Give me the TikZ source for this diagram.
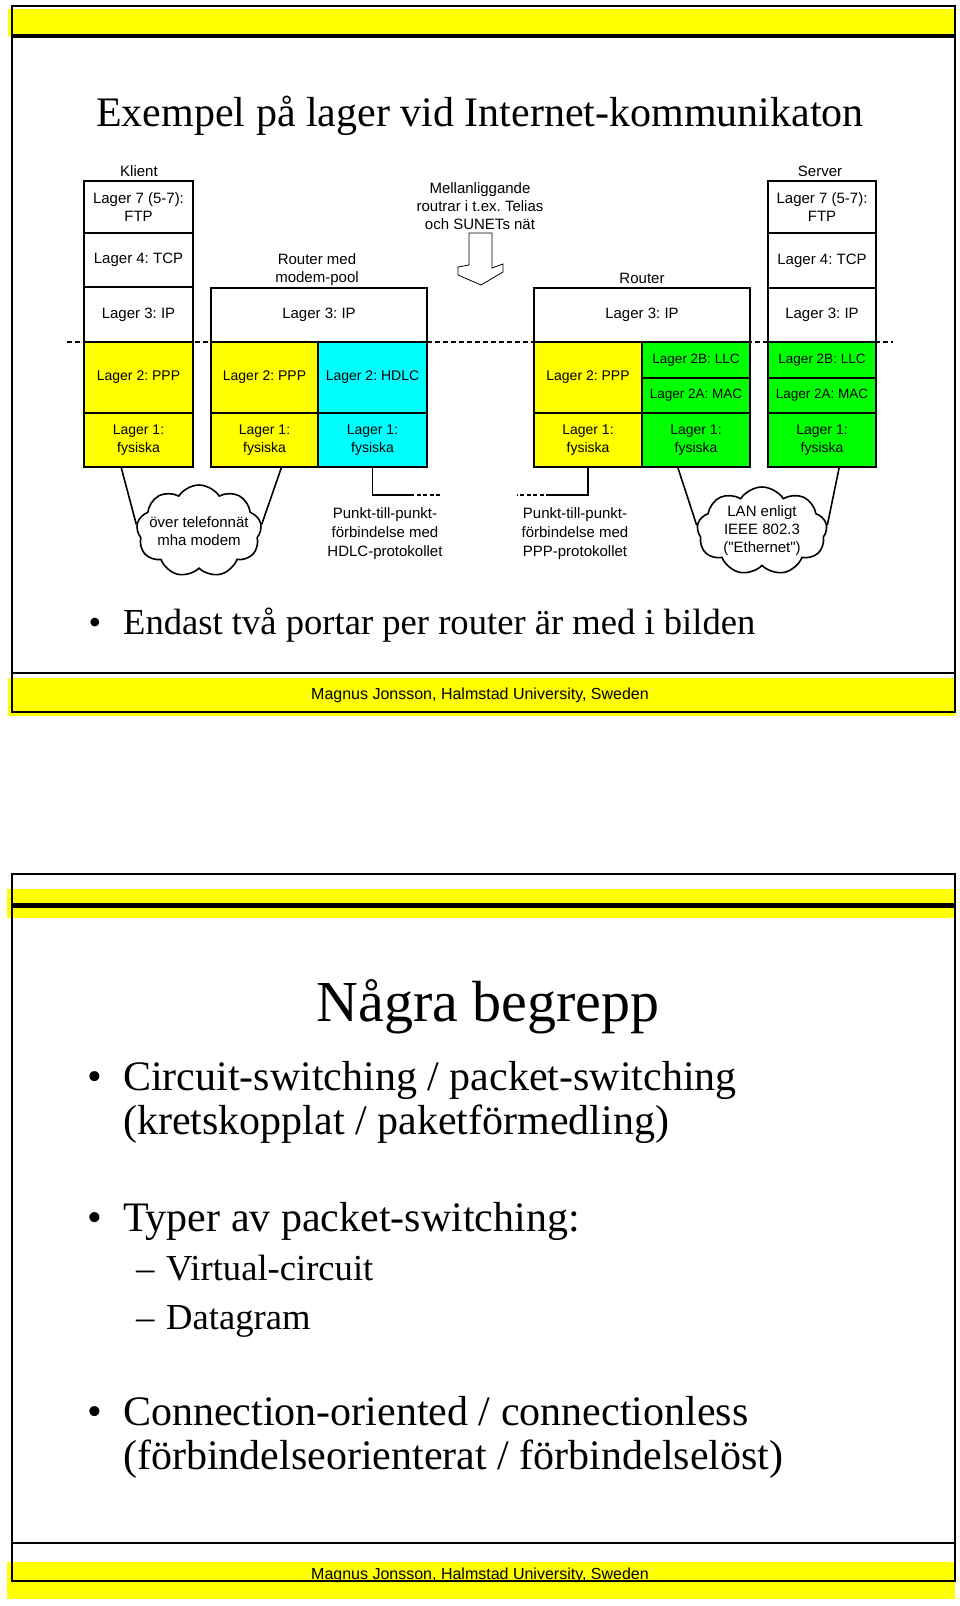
\documentclass[tikz,border=0pt]{standalone}
\usepackage{fontspec}
\setmainfont{Liberation Serif}
\newfontfamily\arialfont[Ligatures=TeXOff]{Liberation Sans}
\usepackage{tikz}
\usetikzlibrary{positioning,calc,shapes.symbols}
\definecolor{slideyellow}{RGB}{255,255,0}
\definecolor{hdlccyan}{RGB}{0,255,255}
\definecolor{langreen}{RGB}{0,255,0}
\frenchspacing

\begin{document}
\begin{tikzpicture}[
    x=1pt,y=-1pt,
    lyr/.style={
        draw=black,
        fill=white,
        line width=1.6pt,
        inner sep=0pt,
        outer sep=0pt,
        align=center,
        anchor=north west,
        font=\arialfont\fontsize{15}{18}\selectfont,
    },
    low/.style={font=\arialfont\fontsize{14}{18}\selectfont},
    sub/.style={font=\arialfont\fontsize{13.5}{18}\selectfont},
    lbl/.style={
        inner sep=0pt,
        align=center,
        font=\arialfont\fontsize{15}{18}\selectfont,
    },
    note/.style={
        inner sep=0pt,
        align=center,
        font=\arialfont\fontsize{15}{19}\selectfont,
    },
    wire/.style={line width=1.6pt},
    cloudy/.style={
        cloud,
        cloud puffs=9,
        cloud puff arc=115,
        cloud ignores aspect,
        draw=black,
        fill=white,
        line width=1.6pt,
        inner sep=0pt,
    },
    layerline/.style={line width=1.8pt, dash pattern=on 5pt off 3pt},
    slidetitle/.style={inner sep=0pt, anchor=base},
    bodytext/.style={inner sep=0pt, anchor=base west, font=\fontsize{42}{50}\selectfont},
    subtext/.style={inner sep=0pt, anchor=base west, font=\fontsize{36.6}{44}\selectfont},
    footer/.style={inner sep=0pt, font=\arialfont\fontsize{16}{19}\selectfont},
]
\useasboundingbox (0,0) rectangle (960,1606);

% slide 1 frame
\fill[slideyellow] (8,9) rectangle (955,36);
\fill[slideyellow] (8,678) rectangle (955,716);
\draw[line width=2pt] (12,6) rectangle (955,712);
\draw[line width=4pt] (12,36) -- (955,36);
\draw[line width=2.5pt] (12,673) -- (955,673);

\node[slidetitle,font=\fontsize{42}{50}\selectfont] (title1) at (480,126) {Exempel på lager vid Internet-kommunikaton};

\coordinate (dl) at (67,342);
\coordinate (dr) at (893,342);
\draw[layerline] (dl) -- (dr);

% klient
\node[lyr,minimum width=109,minimum height=52] (kl7) at (84,181) {Lager 7 (5-7):\\FTP};
\node[lyr,minimum width=109,minimum height=54,below=0pt of kl7] (kl4) {Lager 4: TCP};
\node[lyr,minimum width=109,minimum height=55,below=0pt of kl4] (kl3) {Lager 3: IP};
\node[lyr,low,minimum width=109,minimum height=71,below=0pt of kl3,fill=slideyellow] (kl2) {Lager 2: PPP};
\node[lyr,low,minimum width=109,minimum height=54,below=0pt of kl2,fill=slideyellow] (kl1) {Lager 1:\\fysiska};
\node[lbl] (klient) at (139,171) {Klient};

% router med modem-pool
\node[lyr,minimum width=216,minimum height=54] (ra3) at (211,288) {Lager 3: IP};
\node[lyr,low,minimum width=107,minimum height=71,fill=slideyellow] (ra2p) at (ra3.south west) {Lager 2: PPP};
\node[lyr,low,minimum width=109,minimum height=71,fill=hdlccyan] (ra2h) at (ra2p.north east) {Lager 2: HDLC};
\node[lyr,low,minimum width=107,minimum height=54,below=0pt of ra2p,fill=slideyellow] (ra1p) {Lager 1:\\fysiska};
\node[lyr,low,minimum width=109,minimum height=54,below=0pt of ra2h,fill=hdlccyan] (ra1h) {Lager 1:\\fysiska};
\node[lbl] (modempool) at (317,270) {Router med\\modem-pool};

% router
\node[lyr,minimum width=216,minimum height=54] (rb3) at (534,288) {Lager 3: IP};
\node[lyr,low,minimum width=108,minimum height=71,fill=slideyellow] (rb2p) at (rb3.south west) {Lager 2: PPP};
\node[lyr,sub,minimum width=108,minimum height=36,fill=langreen] (rb2b) at (rb2p.north east) {Lager 2B: LLC};
\node[lyr,sub,minimum width=108,minimum height=35,below=0pt of rb2b,fill=langreen] (rb2a) {Lager 2A: MAC};
\node[lyr,low,minimum width=108,minimum height=54,below=0pt of rb2p,fill=slideyellow] (rb1p) {Lager 1:\\fysiska};
\node[lyr,low,minimum width=108,minimum height=54,below=0pt of rb2a,fill=langreen] (rb1e) {Lager 1:\\fysiska};
\node[lbl] (router) at (642,278) {Router};

% server
\node[lyr,minimum width=108,minimum height=52] (sv7) at (768,181) {Lager 7 (5-7):\\FTP};
\node[lyr,minimum width=108,minimum height=55,below=0pt of sv7] (sv4) {Lager 4: TCP};
\node[lyr,minimum width=108,minimum height=54,below=0pt of sv4] (sv3) {Lager 3: IP};
\node[lyr,sub,minimum width=108,minimum height=36,below=0pt of sv3,fill=langreen] (sv2b) {Lager 2B: LLC};
\node[lyr,sub,minimum width=108,minimum height=35,below=0pt of sv2b,fill=langreen] (sv2a) {Lager 2A: MAC};
\node[lyr,low,minimum width=108,minimum height=54,below=0pt of sv2a,fill=langreen] (sv1) {Lager 1:\\fysiska};
\node[lbl] (server) at (820,171) {Server};

\node[lbl] (mellan) at (480,206) {Mellanliggande\\routrar i t.ex. Telias\\och SUNETs nät};
\draw[line width=0.8pt,fill=white] (469,233) -- (492,233) -- (492,268) -- (503,264) -- (503,272) -- (481,285) -- (458,275) -- (458,267) -- (469,265) -- cycle;

% clouds and links
\node[cloudy,minimum width=125,minimum height=92] (tel) at (199,531) {};
\node[lbl] (teltext) at (tel.center) {över telefonnät\\mha modem};
\draw[wire] ($(kl1.south west)!0.34!(kl1.south east)$) -- (tel.174);
\draw[wire] ($(ra1p.south west)!0.66!(ra1p.south east)$) -- (tel.6);

\node[cloudy,minimum width=130,minimum height=88] (lan) at (762,531) {};
\node[lbl] (lantext) at (lan.center) {LAN enligt\\IEEE 802.3\\("Ethernet")};
\draw[wire] ($(rb1e.south west)!0.33!(rb1e.south east)$) -- (lan.175);
\draw[wire] ($(sv1.south west)!0.66!(sv1.south east)$) -- (lan.5);

\coordinate (hdlcknee) at (410,495);
\coordinate (hdlctip) at (442,495);
\draw[wire] (ra1h.south) |- (hdlcknee);
\draw[wire,dash pattern=on 4pt off 2.5pt] (hdlcknee) -- (hdlctip);
\node[note] (hdlcnote) at (385,534) {Punkt-till-punkt-\\förbindelse med\\HDLC-protokollet};

\coordinate (pppknee) at (550,495);
\coordinate (ppptip) at (517,495);
\draw[wire] (rb1p.south) |- (pppknee);
\draw[wire,dash pattern=on 4pt off 2.5pt] (pppknee) -- (ppptip);
\node[note] (pppnote) at (575,534) {Punkt-till-punkt-\\förbindelse med\\PPP-protokollet};

\node[slidetitle,font=\fontsize{36}{44}\selectfont] (dot1) at (95,634) {•};
\node[subtext] (endast) at (123,634) {Endast två portar per router är med i bilden};

\node[footer] (foot1) at (480,695) {Magnus Jonsson, Halmstad University, Sweden};

% slide 2 frame
\fill[slideyellow] (7,889) rectangle (955,918);
\fill[slideyellow] (7,1562) rectangle (955,1599);
\draw[line width=2pt] (12,874) rectangle (955,1581);
\draw[line width=5pt] (12,905) -- (955,905);
\draw[line width=2pt] (12,1543) -- (955,1543);

\node[slidetitle,font=\fontsize{58}{66}\selectfont] (title2) at (488,1021) {Några begrepp};

\node[slidetitle,font=\fontsize{42}{50}\selectfont] (dot2) at (95,1090) {•};
\node[bodytext] (circ) at (123,1090) {Circuit-switching / packet-switching};
\node[bodytext] (krets) at (123,1134) {(kretskopplat / paketförmedling)};
\node[slidetitle,font=\fontsize{42}{50}\selectfont] (dot3) at (95,1231) {•};
\node[bodytext] (typer) at (123,1231) {Typer av packet-switching:};
\node[subtext] (dash1) at (136,1280) {–};
\node[subtext] (virt) at (166,1280) {Virtual-circuit};
\node[subtext] (dash2) at (136,1329) {–};
\node[subtext] (dgram) at (166,1329) {Datagram};
\node[slidetitle,font=\fontsize{42}{50}\selectfont] (dot4) at (95,1425) {•};
\node[bodytext] (conn) at (123,1425) {Connection-oriented / connectionless};
\node[bodytext] (forb) at (123,1469) {(förbindelseorienterat / förbindelselöst)};

\node[footer] (foot2) at (480,1575) {Magnus Jonsson, Halmstad University, Sweden};
\end{tikzpicture}
\end{document}
